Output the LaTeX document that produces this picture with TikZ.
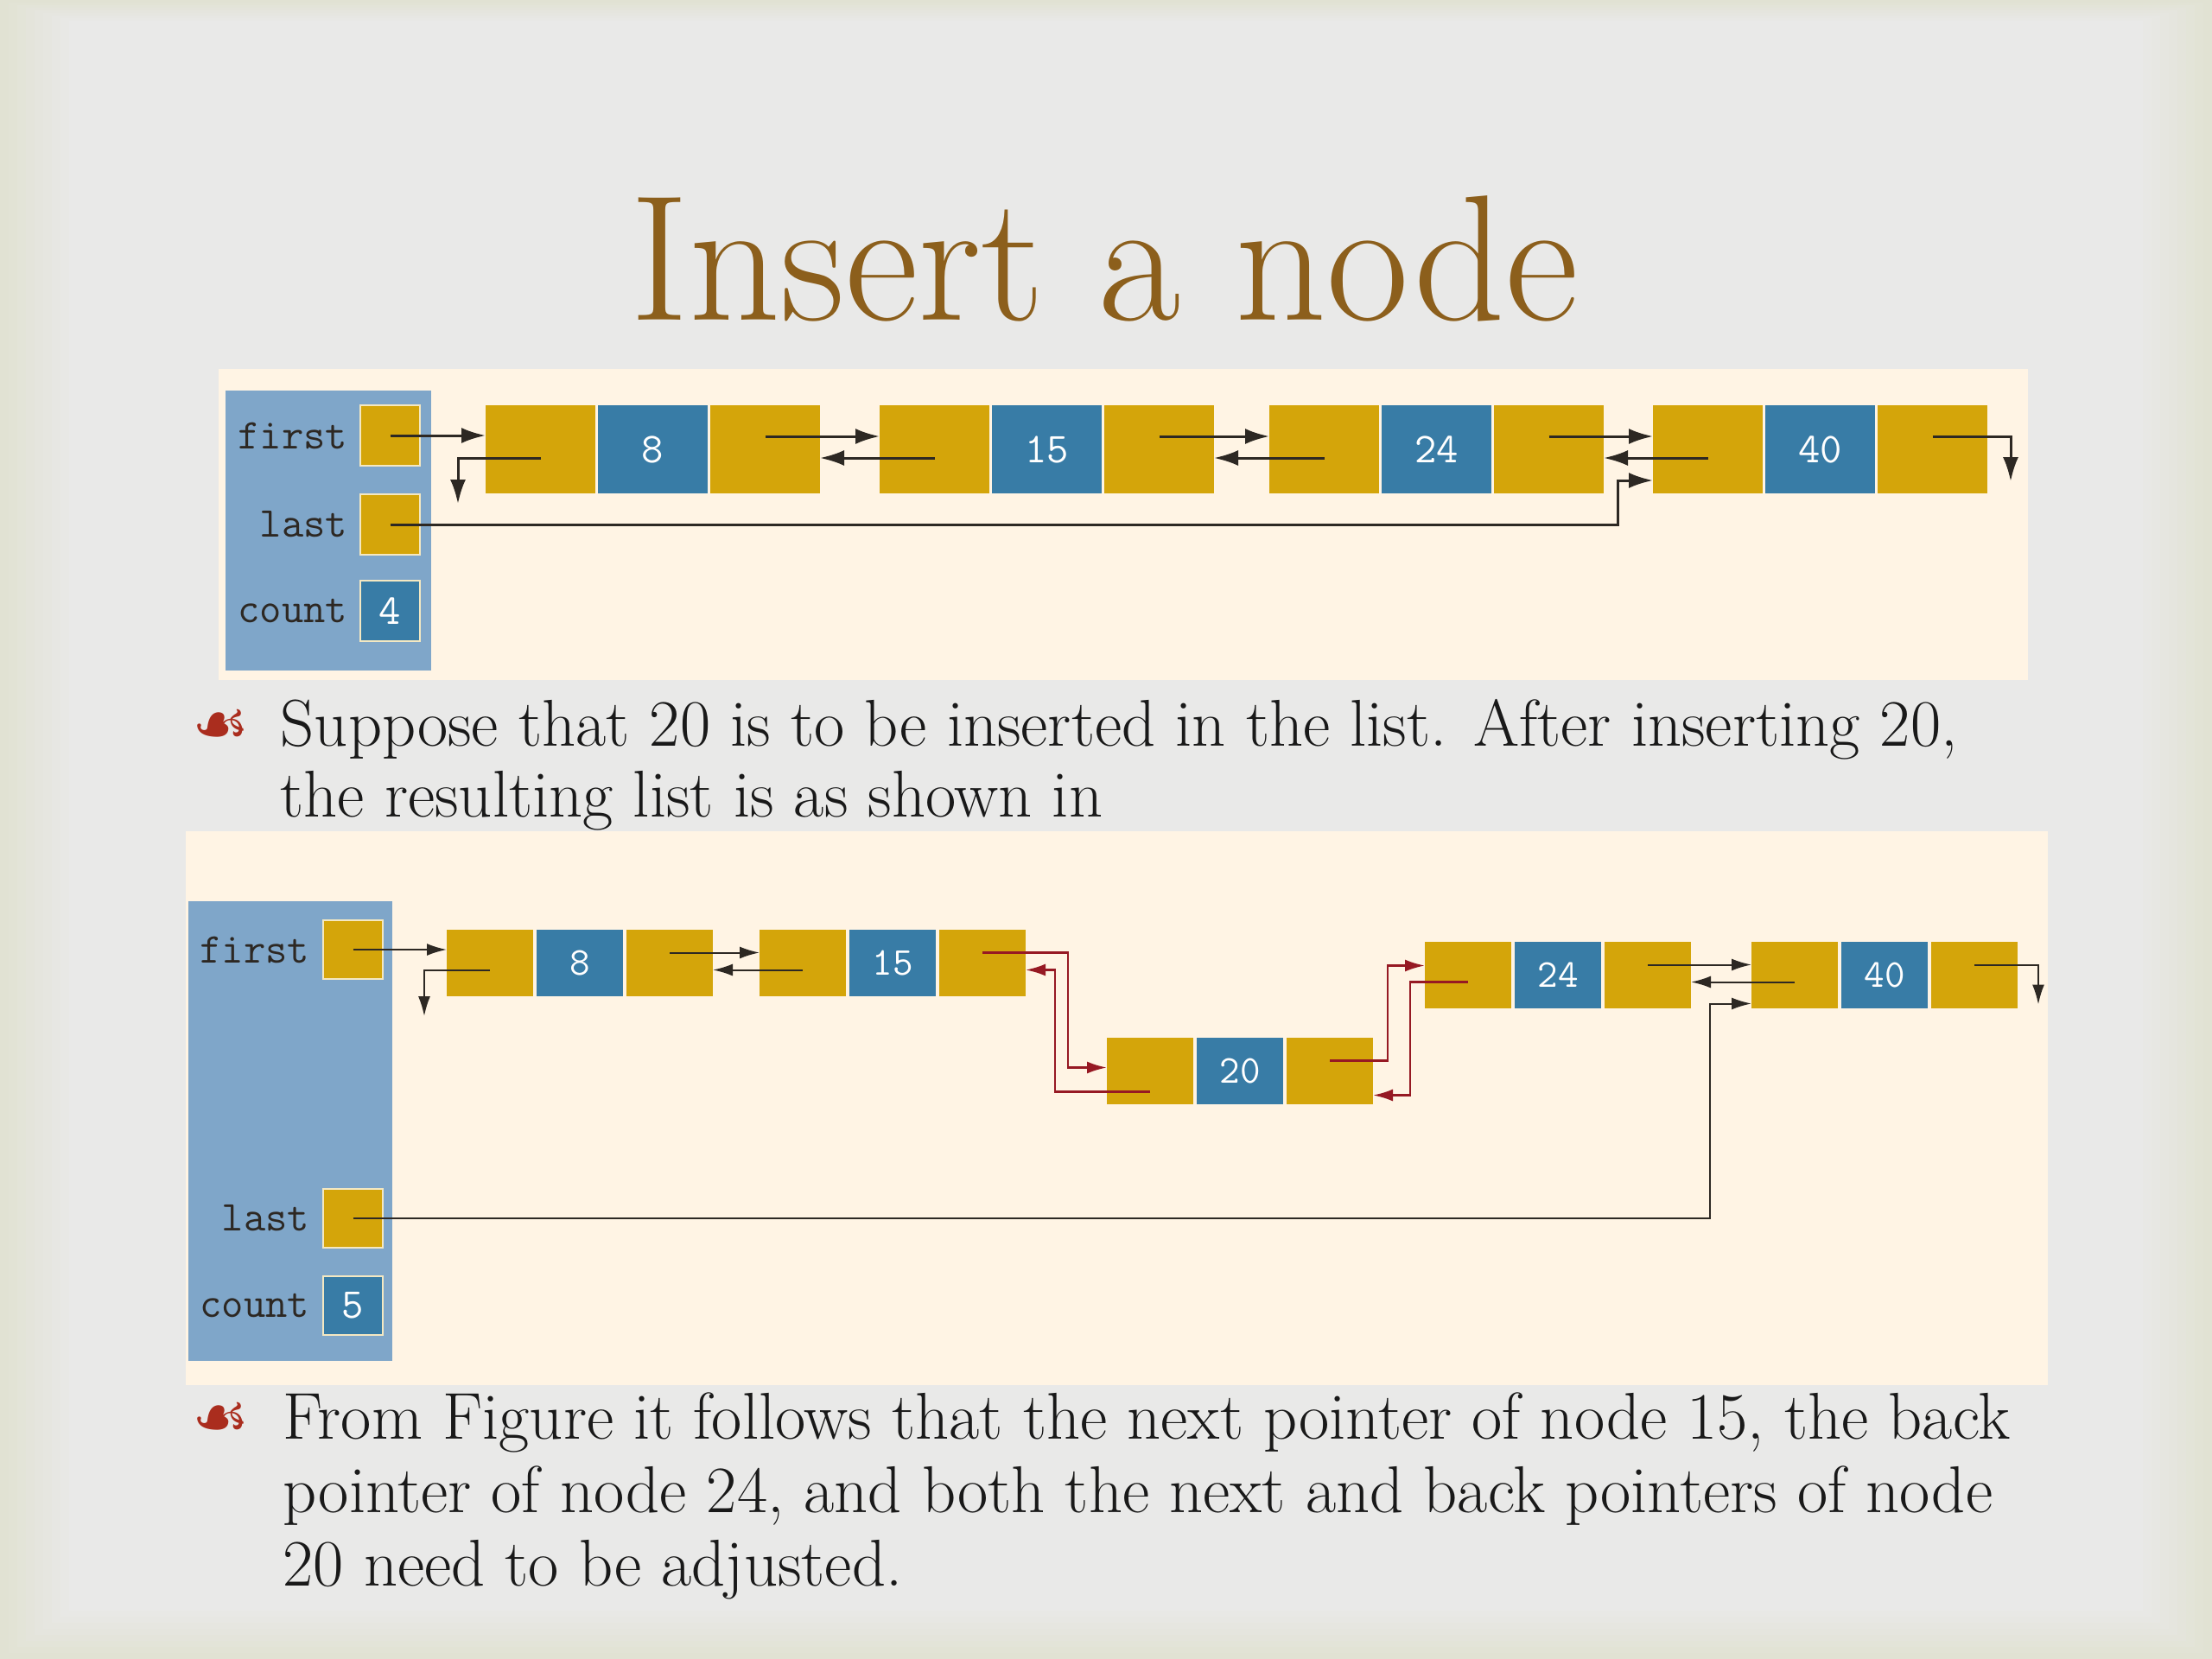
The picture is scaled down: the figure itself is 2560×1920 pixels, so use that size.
\documentclass[tikz,border=0pt]{standalone}
\usepackage{fontspec}
\newfontfamily\symfont{DejaVu Sans}
\usetikzlibrary{positioning,arrows.meta}

\definecolor{framebg}{RGB}{225,226,211}
\definecolor{slidebg}{RGB}{233,233,232}
\definecolor{panelbg}{RGB}{255,244,228}
\definecolor{boxbg}{RGB}{127,166,201}
\definecolor{cellgold}{RGB}{212,165,10}
\definecolor{cellblue}{RGB}{56,124,166}
\definecolor{titlebrown}{RGB}{140,95,28}
\definecolor{linedark}{RGB}{45,40,35}
\definecolor{linered}{RGB}{150,25,35}
\definecolor{ornred}{RGB}{170,45,30}

\tikzset{
  ptrcell/.style={fill=cellgold, minimum width=12.7mm, minimum height=10.2mm, inner sep=0pt, outer sep=0pt},
  datacell/.style={ptrcell, fill=cellblue, text=white, font=\ttfamily\fontsize{14}{14}\selectfont},
  smallptr/.style={fill=cellgold, minimum width=10mm, minimum height=7.7mm, inner sep=0pt, outer sep=0pt},
  smalldata/.style={smallptr, fill=cellblue, text=white, font=\ttfamily\fontsize{13}{13}\selectfont},
  headbox/.style={fill=cellgold, draw=white!75!cellgold, line width=0.25mm, minimum width=6.9mm, minimum height=7mm, inner sep=0pt, outer sep=0pt, anchor=north west},
  countbox/.style={headbox, fill=cellblue, text=white, font=\ttfamily\fontsize{14}{14}\selectfont},
  fieldname/.style={anchor=east, inner sep=0pt, font=\ttfamily\fontsize{14}{14}\selectfont, text=linedark},
  link/.style={draw=linedark, line width=0.3mm, -{Latex[length=2.8mm,width=1.8mm]}},
  thinlink/.style={draw=linedark, line width=0.2mm, -{Latex[length=2.3mm,width=1.4mm]}},
  redlink/.style={thinlink, draw=linered, line width=0.25mm},
  bodyline/.style={anchor=base west, inner sep=0pt, font=\fontsize{21.8}{26}\selectfont, text=black!90},
  orn/.style={anchor=base west, inner sep=0pt, font=\symfont\fontsize{21}{24}\selectfont, text=ornred}
}

\begin{document}
\begin{tikzpicture}[x=0.1mm, y=-0.1mm]
\useasboundingbox (0,0) rectangle (2560,1920);
\fill[framebg] (0,0) rectangle (2560,1920);
\foreach \k in {1,...,8}{
  \pgfmathtruncatemacro{\mix}{\k*12.5}
  \fill[slidebg!\mix!framebg] (10*\k,3*\k) rectangle (2560-10*\k,1920-7*\k);
}

\node[font=\fontsize{59}{64}\selectfont, text=titlebrown, anchor=base] (title) at (1278,370) {Insert a node};

% before
\fill[panelbg] (253,427) rectangle (2347,787);
\fill[boxbg] (261,452) rectangle (499,776);
\node[headbox] (fst) at (417,469) {};
\node[headbox] (lst) at (417,572) {};
\node[countbox] (cnt) at (417,672) {4};
\node[fieldname] (fstname) at ([xshift=-1.4mm]fst.west) {first};
\node[fieldname] (lstname) at ([xshift=-1.4mm]lst.west) {last};
\node[fieldname] (cntname) at ([xshift=-1.4mm]cnt.west) {count};

\node[ptrcell, anchor=north west] (p8) at (562,469) {};
\node[datacell, right=0.3mm of p8] (d8) {8};
\node[ptrcell, right=0.3mm of d8] (n8) {};
\node[ptrcell, anchor=north west] (p15) at (1018,469) {};
\node[datacell, right=0.3mm of p15] (d15) {15};
\node[ptrcell, right=0.3mm of d15] (n15) {};
\node[ptrcell, anchor=north west] (p24) at (1469,469) {};
\node[datacell, right=0.3mm of p24] (d24) {24};
\node[ptrcell, right=0.3mm of d24] (n24) {};
\node[ptrcell, anchor=north west] (p40) at (1913,469) {};
\node[datacell, right=0.3mm of p40] (d40) {40};
\node[ptrcell, right=0.3mm of d40] (n40) {};

\draw[link] (fst.center) -- (p8.west |- fst.center);
\draw[link] ([yshift=-1mm]p8.center) -| ([xshift=-3.2mm,yshift=-1.2mm]p8.south west);
\draw[link] ([yshift=1.5mm]n8.center) -- ([yshift=1.5mm]p15.west);
\draw[link] ([yshift=-1mm]p15.center) -- ([yshift=-1mm]n8.east);
\draw[link] ([yshift=1.5mm]n15.center) -- ([yshift=1.5mm]p24.west);
\draw[link] ([yshift=-1mm]p24.center) -- ([yshift=-1mm]n15.east);
\draw[link] ([yshift=1.5mm]n24.center) -- ([yshift=1.5mm]p40.west);
\draw[link] ([yshift=-1mm]p40.center) -- ([yshift=-1mm]n24.east);
\draw[link] ([yshift=1.5mm]n40.center) -| ([xshift=2.7mm,yshift=-3.7mm]n40.east);
\draw[link] (lst.center) -| ([xshift=-4.1mm,yshift=-3.6mm]p40.west) -- ([yshift=-3.6mm]p40.west);

\node[orn] (orn1) at (222,863) {☙};
\node[bodyline] (sup1) at (324,863) {Suppose that 20 is to be inserted in the list. After inserting 20,};
\node[bodyline] (sup2) at (324,945) {the resulting list is as shown in};

% after
\fill[panelbg] (215,962) rectangle (2370,1603);
\fill[boxbg] (218,1043) rectangle (454,1575);
\node[headbox, minimum height=6.8mm] (fstB) at (374,1065) {};
\node[headbox, minimum height=6.8mm] (lstB) at (374,1376) {};
\node[countbox, minimum height=6.8mm] (cntB) at (374,1477) {5};
\node[fieldname] (fstBname) at ([xshift=-1.5mm]fstB.west) {first};
\node[fieldname] (lstBname) at ([xshift=-1.5mm]lstB.west) {last};
\node[fieldname] (cntBname) at ([xshift=-1.5mm]cntB.west) {count};

\node[smallptr, anchor=north west] (pB8) at (517,1076) {};
\node[smalldata, right=0.4mm of pB8] (dB8) {8};
\node[smallptr, right=0.4mm of dB8] (nB8) {};
\node[smallptr, anchor=north west] (pB15) at (879,1076) {};
\node[smalldata, right=0.4mm of pB15] (dB15) {15};
\node[smallptr, right=0.4mm of dB15] (nB15) {};
\node[smallptr, anchor=north west] (pB20) at (1281,1201) {};
\node[smalldata, right=0.4mm of pB20] (dB20) {20};
\node[smallptr, right=0.4mm of dB20] (nB20) {};
\node[smallptr, anchor=north west] (pB24) at (1649,1090) {};
\node[smalldata, right=0.4mm of pB24] (dB24) {24};
\node[smallptr, right=0.4mm of dB24] (nB24) {};
\node[smallptr, anchor=north west] (pB40) at (2027,1090) {};
\node[smalldata, right=0.4mm of pB40] (dB40) {40};
\node[smallptr, right=0.4mm of dB40] (nB40) {};

\draw[thinlink] (fstB.center) -- (pB8.west |- fstB.center);
\draw[thinlink] ([yshift=-0.8mm]pB8.center) -| ([xshift=-2.6mm,yshift=-2.3mm]pB8.south west);
\draw[thinlink] ([yshift=1.2mm]nB8.center) -- ([yshift=1.2mm]pB15.west);
\draw[thinlink] ([yshift=-0.8mm]pB15.center) -- ([yshift=-0.8mm]nB8.east);
\draw[redlink] ([yshift=1.2mm]nB15.center) -| ([xshift=-4.5mm,yshift=0.4mm]pB20.west) -- ([yshift=0.4mm]pB20.west);
\draw[redlink] ([yshift=-2.4mm]pB20.center) -| ([xshift=3.4mm,yshift=-0.8mm]nB15.east) -- ([yshift=-0.8mm]nB15.east);
\draw[redlink] ([yshift=1.2mm]nB20.center) -| ([xshift=-4.3mm,yshift=1.1mm]pB24.west) -- ([yshift=1.1mm]pB24.west);
\draw[redlink] ([yshift=-0.8mm]pB24.center) -| ([xshift=4.3mm,yshift=-2.8mm]nB20.east) -- ([yshift=-2.8mm]nB20.east);
\draw[thinlink] ([yshift=1.2mm]nB24.center) -- ([yshift=1.2mm]pB40.west);
\draw[thinlink] ([yshift=-0.8mm]pB40.center) -- ([yshift=-0.8mm]nB24.east);
\draw[thinlink] ([yshift=1.2mm]nB40.center) -| ([xshift=2.4mm,yshift=-3.4mm]nB40.east);
\draw[thinlink] (lstB.center) -| ([xshift=-4.8mm,yshift=-3.3mm]pB40.west) -- ([yshift=-3.3mm]pB40.west);

\node[orn] (orn2) at (222,1665) {☙};
\node[bodyline] (frm1) at (327,1665) {From Figure it follows that the next pointer of node 15, the back};
\node[bodyline] (frm2) at (327,1750) {pointer of node 24, and both the next and back pointers of node};
\node[bodyline] (frm3) at (327,1835) {20 need to be adjusted.};
\end{tikzpicture}
\end{document}
